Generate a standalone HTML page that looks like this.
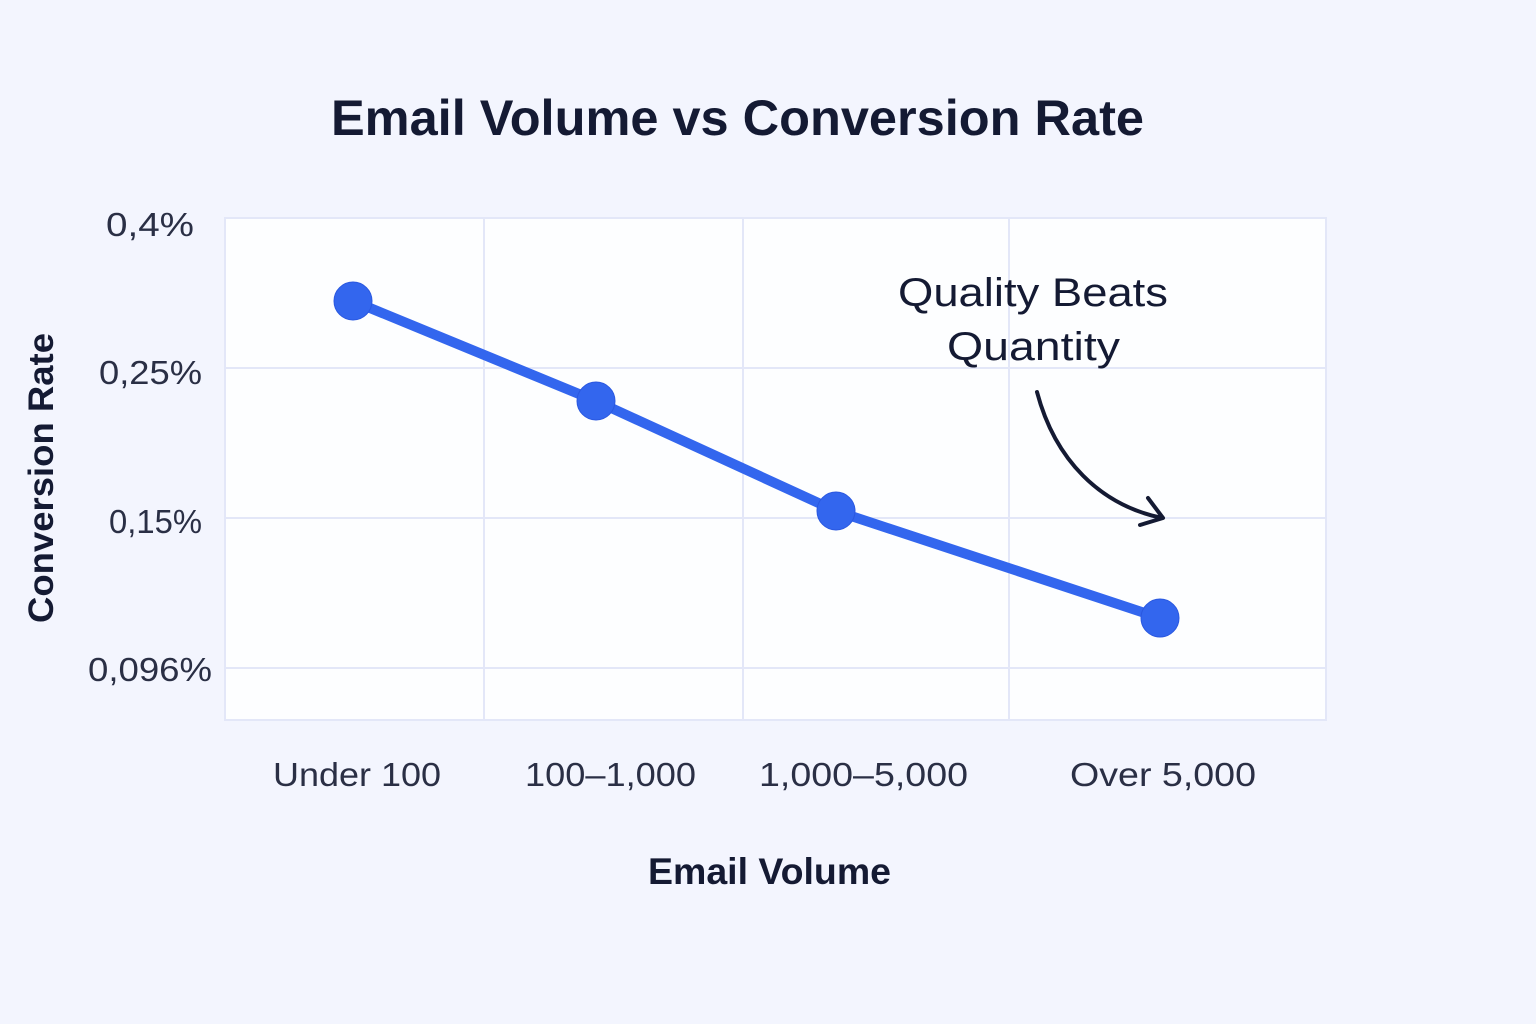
<!DOCTYPE html>
<html><head><style>
body{margin:0;background:#f3f5fe;}
svg{display:block;font-family:"Liberation Sans",sans-serif;}
</style></head><body>
<svg width="1536" height="1024" viewBox="0 0 1536 1024">
<rect width="1536" height="1024" fill="#f3f5fe"/>
<text x="331" y="135" textLength="813" lengthAdjust="spacingAndGlyphs" font-size="50" font-weight="bold" fill="#141a33">Email Volume vs Conversion Rate</text>
<rect x="225" y="218" width="1101" height="502" fill="#fdfeff" stroke="#e3e7f8" stroke-width="2"/>
<g stroke="#e3e7f8" stroke-width="2">
<line x1="484" y1="218" x2="484" y2="720"/><line x1="743" y1="218" x2="743" y2="720"/><line x1="1009" y1="218" x2="1009" y2="720"/>
<line x1="225" y1="368" x2="1326" y2="368"/><line x1="225" y1="518" x2="1326" y2="518"/><line x1="225" y1="668" x2="1326" y2="668"/>
</g>
<g font-size="33" fill="#2a2f45">
<text x="106" y="236" textLength="88" lengthAdjust="spacingAndGlyphs">0,4%</text>
<text x="99" y="384" textLength="103" lengthAdjust="spacingAndGlyphs">0,25%</text>
<text x="109" y="533" textLength="93" lengthAdjust="spacingAndGlyphs">0,15%</text>
<text x="88" y="681" textLength="124" lengthAdjust="spacingAndGlyphs">0,096%</text>
<text x="273" y="786" textLength="168" lengthAdjust="spacingAndGlyphs">Under 100</text>
<text x="525" y="786" textLength="171" lengthAdjust="spacingAndGlyphs">100–1,000</text>
<text x="759" y="786" textLength="209" lengthAdjust="spacingAndGlyphs">1,000–5,000</text>
<text x="1070" y="786" textLength="186" lengthAdjust="spacingAndGlyphs">Over 5,000</text>
</g>
<text x="648" y="884" textLength="243" lengthAdjust="spacingAndGlyphs" font-size="37" font-weight="bold" fill="#141a33">Email Volume</text>
<text transform="translate(53,478) rotate(-90)" text-anchor="middle" textLength="290" lengthAdjust="spacingAndGlyphs" font-size="35" font-weight="bold" fill="#141a33">Conversion Rate</text>
<polyline points="353,301 596,401 836,511 1160,618" fill="none" stroke="#3366ee" stroke-width="10" stroke-linejoin="round"/>
<g fill="#3366ee" stroke="#2a58e0" stroke-width="1">
<circle cx="353" cy="301" r="19"/><circle cx="596" cy="401" r="19"/><circle cx="836" cy="511" r="19"/><circle cx="1160" cy="618" r="19"/>
</g>
<text x="898" y="306" textLength="270" lengthAdjust="spacingAndGlyphs" font-size="40" fill="#141a33">Quality Beats</text>
<text x="947" y="360" textLength="173" lengthAdjust="spacingAndGlyphs" font-size="40" fill="#141a33">Quantity</text>
<path d="M1037,392 C1055,460 1100,505 1162,518" fill="none" stroke="#141a33" stroke-width="4" stroke-linecap="round"/>
<path d="M1148,498 L1163,518 L1140,525" fill="none" stroke="#141a33" stroke-width="4" stroke-linecap="round" stroke-linejoin="round"/>
</svg>
</body></html>
